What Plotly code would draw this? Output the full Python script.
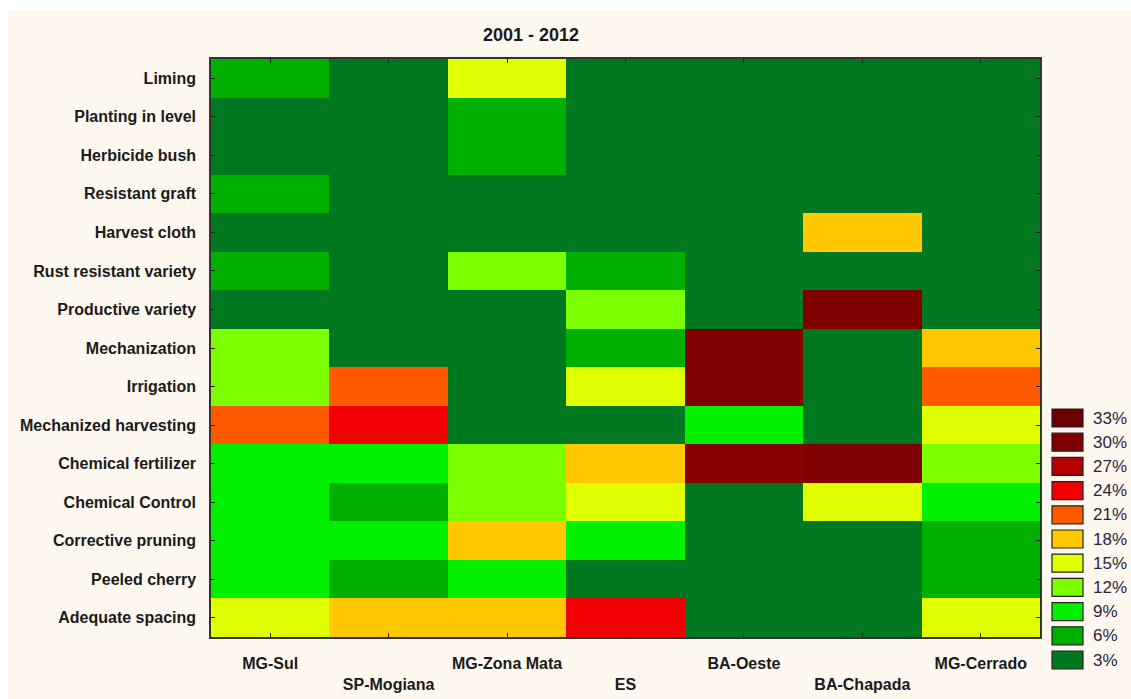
import plotly.graph_objects as go

# categories
regions = ["MG-Sul", "SP-Mogiana", "MG-Zona Mata", "ES", "BA-Oeste", "BA-Chapada", "MG-Cerrado"]
practices = [
    "Liming", "Planting in level", "Herbicide bush", "Resistant graft", "Harvest cloth",
    "Rust resistant variety", "Productive variety", "Mechanization", "Irrigation",
    "Mechanized harvesting", "Chemical fertilizer", "Chemical Control",
    "Corrective pruning", "Peeled cherry", "Adequate spacing",
]

# share of adoption (%), rows = practices (top to bottom), cols = regions
values = [
    [6, 3, 15, 3, 3, 3, 3],
    [3, 3, 6, 3, 3, 3, 3],
    [3, 3, 6, 3, 3, 3, 3],
    [6, 3, 3, 3, 3, 3, 3],
    [3, 3, 3, 3, 3, 18, 3],
    [6, 3, 12, 6, 3, 3, 3],
    [3, 3, 3, 12, 3, 30, 3],
    [12, 3, 3, 6, 30, 3, 18],
    [12, 21, 3, 15, 30, 3, 21],
    [21, 24, 3, 3, 9, 3, 15],
    [9, 9, 12, 18, 29.5, 30, 12],
    [9, 6, 12, 15, 3, 15, 9],
    [9, 9, 18, 9, 3, 3, 6],
    [9, 6, 9, 3, 3, 3, 6],
    [15, 18, 18, 24, 3, 3, 15],
]

levels = [3, 6, 9, 12, 15, 18, 21, 24, 27, 30, 33]
level_colors = ["#007820", "#00B000", "#00F000", "#7CFF00", "#E0FF00", "#FFC800",
                "#FF5A00", "#F00000", "#B40000", "#800000", "#6A0000"]

W, H = 1131, 699
L, R, T, B = 211, 1040, 59, 637
CREAM = "#FEF8EE"
FONT = "Liberation Sans"

zmin, zmax = levels[0], levels[-1]
colorscale = [[(v - zmin) / (zmax - zmin), c] for v, c in zip(levels, level_colors)]

fig = go.Figure(
    go.Heatmap(
        z=values,
        x=list(range(len(regions))),
        y=list(range(len(practices))),
        colorscale=colorscale,
        zmin=zmin,
        zmax=zmax,
        showscale=False,
    )
)

fig.update_xaxes(
    tickvals=list(range(len(regions))),
    ticktext=[f"<b>{r}</b>" if i % 2 == 0 else f"<br><b>{r}</b>" for i, r in enumerate(regions)],
    ticks="inside", ticklen=4, tickcolor="#222", mirror="allticks",
    showline=True, linecolor="#333", linewidth=1.5, automargin=False,
    showgrid=False, zeroline=False, ticklabelstandoff=11,
    tickfont=dict(family=FONT, size=16, color="#1a1a1a"),
)
fig.update_yaxes(
    tickvals=list(range(len(practices))), ticktext=[f"<b>{p}</b>" for p in practices],
    autorange="reversed",
    ticks="inside", ticklen=4, tickcolor="#222", mirror="allticks",
    showline=True, linecolor="#333", linewidth=1.5, automargin=False,
    showgrid=False, zeroline=False, ticklabelstandoff=10,
    tickfont=dict(family=FONT, size=16, color="#1a1a1a"),
)


def px_x(p):
    return (p - L) / (R - L)


def px_y(p):
    return (B - p) / (B - T)


# white strips above / left of the cream page
shapes = [
    dict(type="rect", xref="paper", yref="paper", x0=px_x(0), x1=px_x(W),
         y0=px_y(10), y1=px_y(0), fillcolor="white", line_width=0, layer="below"),
    dict(type="rect", xref="paper", yref="paper", x0=px_x(0), x1=px_x(8),
         y0=px_y(H), y1=px_y(0), fillcolor="white", line_width=0, layer="below"),
]
annotations = []
top0, step = 409, 24.2
for i, (lv, col) in enumerate(zip(reversed(levels), reversed(level_colors))):
    y0 = top0 + i * step
    shapes.append(dict(type="rect", xref="paper", yref="paper",
                       x0=px_x(1052), x1=px_x(1083), y0=px_y(y0), y1=px_y(y0 + 18),
                       fillcolor=col, line=dict(color="#222", width=1.2)))
    annotations.append(dict(xref="paper", yref="paper", x=px_x(1091), y=px_y(y0 + 9),
                            text=f"{lv}%", showarrow=False, xanchor="left", yanchor="middle",
                            font=dict(family=FONT, size=17, color="#2a1f3d")))

fig.update_layout(
    width=W, height=H,
    margin=dict(l=L, r=W - R, t=T, b=H - B),
    paper_bgcolor=CREAM, plot_bgcolor=CREAM,
    title=dict(text="<b>2001 - 2012</b>", x=px_x(531), xref="paper", xanchor="center",
               y=1 - 35 / H, yanchor="middle",
               font=dict(family=FONT, size=18, color="#1a1a1a")),
    shapes=shapes,
    annotations=annotations,
)

fig.write_html(
    "out.html",
    config={"displayModeBar": False},
    default_width=f"{W}px",
    default_height=f"{H}px",
    post_script="document.body.style.margin = '0'; document.documentElement.style.overflow = 'hidden';",
)
